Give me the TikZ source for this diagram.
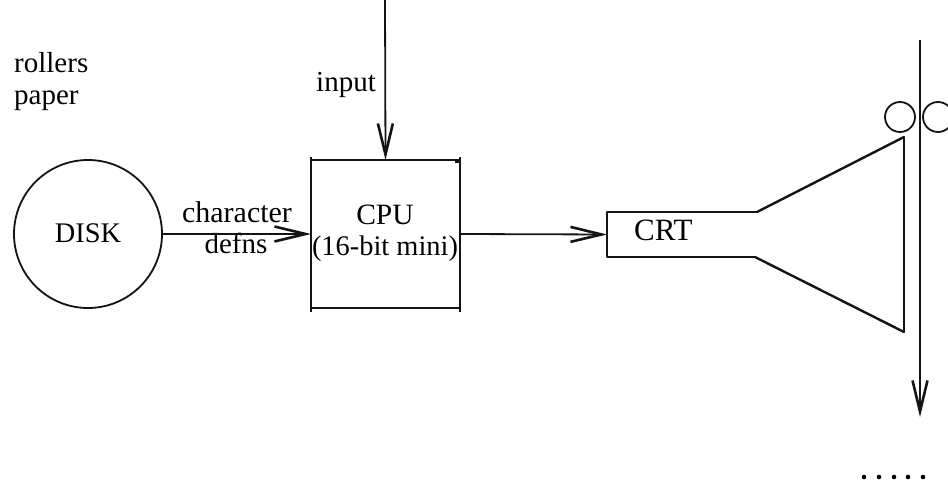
\documentclass[tikz,border=0pt]{standalone}
\usepackage{fontspec}
\setmainfont{Liberation Serif}
\usetikzlibrary{arrows.meta}
\tikzset{
  ln/.style={line width=1.8pt,black!92},
  slant/.style={line width=2.4pt,black!92},
  flow/.style={ln,-{Straight Barb[length=31pt,width=15pt,line width=2.6pt]}},
  lbl/.style={anchor=base west,inner sep=0pt,font=\fontsize{29}{29}\selectfont,text=black},
  clbl/.style={lbl,anchor=base},
  blank/.style={inner sep=0pt,outer sep=0pt,draw=none},
  dotm/.style={circle,fill=black,inner sep=0pt,minimum size=4.6pt}
}
\begin{document}
\begin{tikzpicture}[x=1pt,y=-1pt]
\useasboundingbox (0,0) rectangle (948,486);
\fill[white] (0,0) rectangle (948,486);
% text
\node[lbl] (trollers) at (14,73) {rollers};
\node[lbl] (tpaper) at (14,105) {paper};
\node[lbl] (tinput) at (316,92) {input};
\node[clbl,font=\fontsize{30}{30}\selectfont] (tchar) at (237,223) {character};
\node[clbl,font=\fontsize{29}{29}\selectfont] (tdefns) at (236,254) {defns};
\node[clbl,font=\fontsize{29.5}{29}\selectfont] (tcpu) at (385,225) {CPU};
\node[clbl,font=\fontsize{28.4}{29}\selectfont] (tmini) at (385,256) {(16-bit mini)};
\node[lbl,font=\fontsize{31}{31}\selectfont] (tcrt) at (634,241) {CRT};
% disk
\node[ln,draw,circle,minimum size=148pt,inner sep=0pt,outer sep=0pt] (disk) at (88,234) {};
\node[clbl,font=\fontsize{28.4}{29}\selectfont] (tdisk) at (88,243) {DISK};
% CPU box
\node[blank,minimum width=149pt,minimum height=148pt] (cpu) at (385.5,234) {};
\draw[ln] ([yshift=3pt]cpu.north west) -- ([yshift=-4pt]cpu.south west);
\draw[ln] ([yshift=3pt]cpu.north east) -- ([yshift=-4pt]cpu.south east);
\draw[ln] (cpu.north west) -- (cpu.north east);
\draw[ln] (cpu.south west) -- ([xshift=-1pt]cpu.south east);
\draw[ln] ([shift={(-5pt,-2pt)}]cpu.north east) -- ([yshift=-2pt]cpu.north east);
% CRT
\coordinate (crtA) at (904,137);
\coordinate (crtB) at (904,332);
\coordinate (crtTR) at (757,212);
\coordinate (crtBR) at (755,257);
\node[blank,minimum width=0pt,minimum height=45pt] (crt) at (607,234.5) {};
\draw[ln,line join=round] (crtBR) -- (crt.south) -- (crt.north) -- (crtTR);
\draw[slant,line cap=round] (crtTR) -- (crtA);
\draw[slant,line cap=round] (crtBR) -- (crtB);
\draw[ln] (crtA) -- (crtA |- crtB);
% rollers
\node[ln,draw,circle,minimum size=30pt,inner sep=0pt] (rollerL) at (900,117) {};
\node[ln,draw,circle,minimum size=30pt,inner sep=0pt] (rollerR) at (938,117) {};
% connectors
\coordinate (inTop) at (385,0);
\draw[flow] (inTop) -- (cpu.north);
\draw[flow] (disk.east) -- (cpu.west);
\draw[flow] (cpu.east) -- (crt.center);
\coordinate (paperTop) at (920,40);
\coordinate (paperEnd) at (920,417);
\draw[flow] (paperTop) -- (paperEnd);
% dots
\node[dotm] (d1) at (864,477) {};
\node[dotm] (d2) at (879,477) {};
\node[dotm] (d3) at (894,477) {};
\node[dotm] (d4) at (908,477) {};
\node[dotm] (d5) at (923,477) {};
\end{tikzpicture}
\end{document}
